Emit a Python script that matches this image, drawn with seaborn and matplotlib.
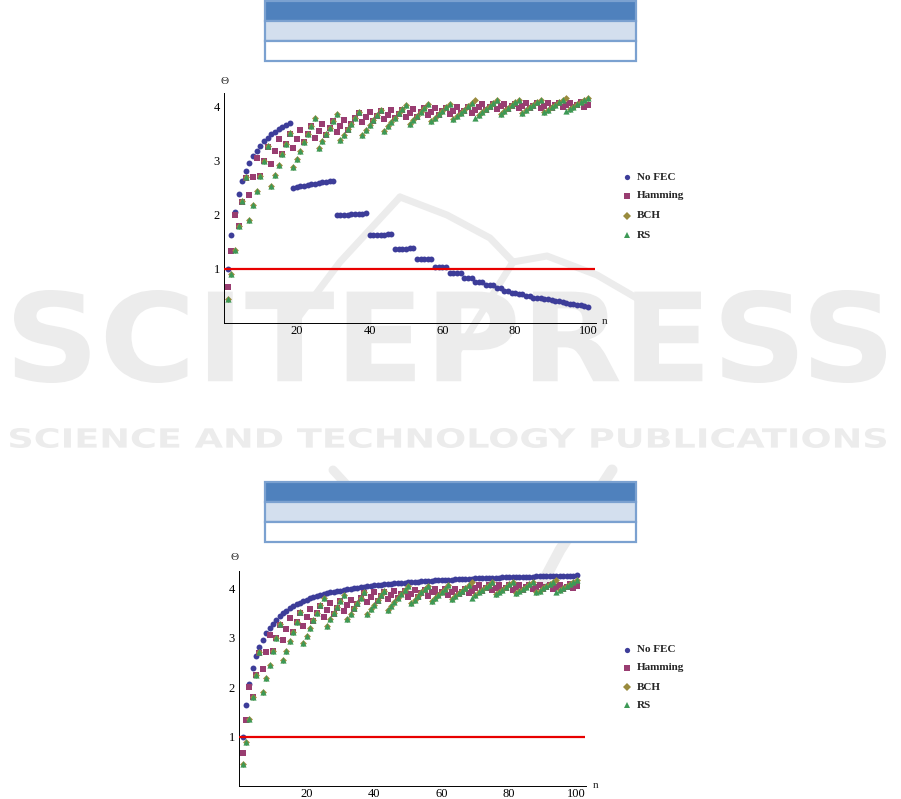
import seaborn as sns
import matplotlib.pyplot as plt
from matplotlib.patches import Rectangle, PathPatch
from matplotlib.lines import Line2D
from matplotlib.textpath import TextPath
from matplotlib.font_manager import FontProperties
from matplotlib.transforms import Affine2D
from matplotlib.ticker import MultipleLocator, FixedLocator

# packet length n = 1..100
n = list(range(1, 101))

# throughput without FEC, lossy channel (upper chart)
no_fec_lossy = [1.00, 1.63, 2.06, 2.38, 2.62, 2.81, 2.96, 3.09, 3.19, 3.28,
                3.36, 3.43, 3.49, 3.54, 3.59, 3.63, 3.67, 3.70, 2.49, 2.51,
                2.53, 2.54, 2.55, 2.57, 2.58, 2.59, 2.61, 2.61, 2.63, 2.63,
                1.99, 1.99, 2.00, 2.00, 2.01, 2.01, 2.02, 2.02, 2.03, 1.62,
                1.62, 1.63, 1.63, 1.63, 1.64, 1.64, 1.37, 1.37, 1.37, 1.37,
                1.38, 1.38, 1.18, 1.18, 1.18, 1.19, 1.19, 1.04, 1.04, 1.04,
                1.04, 0.93, 0.93, 0.93, 0.93, 0.84, 0.84, 0.84, 0.76, 0.76,
                0.76, 0.70, 0.70, 0.70, 0.65, 0.65, 0.60, 0.60, 0.56, 0.56,
                0.53, 0.53, 0.50, 0.50, 0.47, 0.47, 0.47, 0.45, 0.45, 0.42,
                0.40, 0.40, 0.39, 0.37, 0.35, 0.35, 0.34, 0.33, 0.31, 0.30]

# throughput without FEC, clean channel (lower chart)
no_fec_clean = [1.00, 1.63, 2.06, 2.38, 2.62, 2.81, 2.96, 3.09, 3.19, 3.28,
                3.36, 3.43, 3.49, 3.54, 3.59, 3.63, 3.67, 3.70, 3.73, 3.76,
                3.79, 3.81, 3.83, 3.85, 3.87, 3.89, 3.91, 3.92, 3.94, 3.95,
                3.97, 3.98, 3.99, 4.00, 4.01, 4.02, 4.03, 4.04, 4.05, 4.06,
                4.06, 4.07, 4.08, 4.08, 4.09, 4.10, 4.10, 4.11, 4.11, 4.12,
                4.13, 4.13, 4.13, 4.14, 4.14, 4.15, 4.15, 4.16, 4.16, 4.16,
                4.17, 4.17, 4.17, 4.18, 4.18, 4.18, 4.19, 4.19, 4.19, 4.20,
                4.20, 4.20, 4.20, 4.21, 4.21, 4.21, 4.21, 4.22, 4.22, 4.22,
                4.22, 4.22, 4.23, 4.23, 4.23, 4.23, 4.23, 4.24, 4.24, 4.24,
                4.24, 4.24, 4.24, 4.25, 4.25, 4.25, 4.25, 4.25, 4.25, 4.26]

hamming = [0.67, 1.33, 2.00, 1.80, 2.24, 2.69, 2.37, 2.71, 3.05, 2.72,
           2.99, 3.26, 2.95, 3.18, 3.40, 3.12, 3.31, 3.50, 3.24, 3.41,
           3.58, 3.34, 3.49, 3.64, 3.42, 3.55, 3.69, 3.48, 3.60, 3.73,
           3.53, 3.65, 3.76, 3.58, 3.68, 3.79, 3.89, 3.72, 3.81, 3.91,
           3.74, 3.83, 3.93, 3.77, 3.85, 3.94, 3.79, 3.87, 3.95, 3.81,
           3.88, 3.96, 3.82, 3.90, 3.97, 3.84, 3.91, 3.98, 3.85, 3.92,
           3.98, 3.86, 3.93, 3.99, 3.88, 3.93, 3.99, 3.89, 3.94, 4.00,
           4.06, 3.95, 4.00, 4.06, 3.96, 4.01, 4.06, 3.96, 4.01, 4.06,
           3.97, 4.02, 4.07, 3.97, 4.02, 4.07, 3.98, 4.02, 4.07, 3.98,
           4.03, 4.07, 3.99, 4.03, 4.07, 3.99, 4.03, 4.08, 4.00, 4.04]

bch = [0.45, 0.90, 1.35, 1.80, 2.25, 2.70, 1.91, 2.18, 2.45, 2.72,
       3.00, 3.27, 2.54, 2.73, 2.93, 3.12, 3.32, 3.51, 2.89, 3.04,
       3.19, 3.35, 3.50, 3.65, 3.80, 3.24, 3.37, 3.49, 3.61, 3.74,
       3.86, 3.38, 3.48, 3.59, 3.69, 3.80, 3.91, 3.48, 3.57, 3.66,
       3.75, 3.85, 3.94, 3.56, 3.64, 3.72, 3.80, 3.88, 3.96, 4.04,
       3.69, 3.76, 3.83, 3.91, 3.98, 4.05, 3.73, 3.80, 3.86, 3.93,
       3.99, 4.06, 3.77, 3.83, 3.89, 3.95, 4.01, 4.07, 4.13, 3.85,
       3.91, 3.96, 4.02, 4.07, 4.13, 3.87, 3.92, 3.97, 4.03, 4.08,
       4.13, 3.89, 3.94, 3.99, 4.03, 4.08, 4.13, 3.91, 3.95, 4.00,
       4.04, 4.08, 4.13, 4.17, 3.96, 4.00, 4.05, 4.09, 4.13, 4.17]

rs = [0.45, 0.90, 1.35, 1.80, 2.25, 2.70, 1.91, 2.18, 2.45, 2.72,
      3.00, 3.27, 2.54, 2.73, 2.93, 3.12, 3.32, 3.51, 2.89, 3.04,
      3.19, 3.35, 3.50, 3.65, 3.80, 3.24, 3.37, 3.49, 3.61, 3.74,
      3.86, 3.38, 3.48, 3.59, 3.69, 3.80, 3.91, 3.48, 3.57, 3.66,
      3.75, 3.85, 3.94, 3.56, 3.64, 3.72, 3.80, 3.88, 3.96, 4.04,
      3.69, 3.76, 3.83, 3.91, 3.98, 4.05, 3.73, 3.80, 3.86, 3.93,
      3.99, 4.06, 3.77, 3.83, 3.89, 3.95, 4.01, 4.07, 3.80, 3.85,
      3.91, 3.96, 4.02, 4.07, 4.13, 3.87, 3.92, 3.97, 4.03, 4.08,
      4.13, 3.89, 3.94, 3.99, 4.03, 4.08, 4.13, 3.91, 3.95, 4.00,
      4.04, 4.08, 4.13, 3.92, 3.96, 4.00, 4.05, 4.09, 4.13, 4.17]

labels = ["No FEC", "Hamming", "BCH", "RS"]
colors = ["#3d3d99", "#993d71", "#998b3d", "#3d9956"]
markers = ["o", "s", "D", "^"]
sizes = [18, 13, 12, 20]

W, H = 901, 799
WM = "#ececec"  # watermark grey
sns.set_style("white")
plt.rcParams['font.family'] = ['Liberation Serif', 'DejaVu Serif']

fig = plt.figure(figsize=(W / 100, H / 100), dpi=100)


def fx(px):
    return px / W


def fy(py):
    return 1 - py / H


# watermark text, stretched into a pixel box (left, top, right, bottom)
def stamp(text, box):
    tp = TextPath((0, 0), text, size=100,
                  prop=FontProperties(family="DejaVu Sans", weight="bold"))
    ext = tp.get_extents()
    x0, y0, x1, y1 = box
    sx = (x1 - x0) / ext.width / W
    sy = (y1 - y0) / ext.height / H
    tr = Affine2D().translate(-ext.x0, -ext.y0).scale(sx, sy).translate(fx(x0), fy(y1))
    fig.add_artist(PathPatch(tr.transform_path(tp), transform=fig.transFigure,
                             facecolor=WM, edgecolor="none", zorder=-5))


def stroke(pts, width=7):
    fig.add_artist(Line2D([fx(p[0]) for p in pts], [fy(p[1]) for p in pts],
                          color=WM, lw=width * 0.72, solid_capstyle="round",
                          solid_joinstyle="round", transform=fig.transFigure, zorder=-6))


stamp("SCITEPRESS", (14, 290, 886, 383))
stamp("SCIENCE AND TECHNOLOGY PUBLICATIONS", (10, 428, 886, 448))
# logo strokes of the watermark
stroke([(285, 335), (340, 262), (400, 197)])
stroke([(400, 197), (447, 215), (490, 238), (513, 262)])
stroke([(513, 262), (547, 256), (597, 275), (640, 300)])
stroke([(513, 262), (477, 320), (455, 356)])
stroke([(333, 470), (368, 508), (410, 508)], width=9)
stroke([(612, 470), (560, 550), (543, 582)], width=11)


# empty table header above each chart
def table(top):
    rows = [("#4f81bd", top, top + 20), ("#d3dfee", top + 20, top + 40), ("white", top + 40, top + 60)]
    for c, t, b in rows:
        fig.add_artist(Rectangle((fx(265), fy(b)), fx(636) - fx(265), fy(t) - fy(b),
                                 transform=fig.transFigure, facecolor=c,
                                 edgecolor="#7ba1d0", lw=1.6, zorder=1))


table(1)
table(482)


def panel(rect, xmax, ymax, no_fec, legend_y, theta_xy, n_xy):
    ax = fig.add_axes(rect)
    ax.set_facecolor("none")
    series = [no_fec, hamming, bch, rs]
    for vals, c, m, s in zip(series, colors, markers, sizes):
        sns.scatterplot(x=n, y=vals, ax=ax, marker=m, color=c, s=s,
                        linewidth=0, clip_on=False, zorder=3)
    ax.hlines(1, 0, xmax - 0.3, color="#e80000", lw=1.6, zorder=4)
    ax.set_xlim(0, xmax)
    ax.set_ylim(0, ymax)
    sns.despine(ax=ax)
    for sp in ("left", "bottom"):
        ax.spines[sp].set_linewidth(0.7)
        ax.spines[sp].set_color("black")
    ax.xaxis.set_major_locator(FixedLocator([20, 40, 60, 80, 100]))
    ax.xaxis.set_minor_locator(MultipleLocator(5))
    ax.yaxis.set_major_locator(FixedLocator([1, 2, 3, 4]))
    ax.yaxis.set_minor_locator(MultipleLocator(0.2))
    ax.tick_params(which="both", direction="in", width=0.6, colors="black",
                   labelsize=9)
    ax.tick_params(axis="x", pad=1.5)
    ax.tick_params(axis="y", pad=3)
    ax.tick_params(which="major", length=4)
    ax.tick_params(which="minor", length=2)
    ax.set_xlabel("")
    ax.set_ylabel("")
    fig.text(fx(theta_xy[0]), fy(theta_xy[1]), "Θ", ha="center", va="center", fontsize=8)
    fig.text(fx(n_xy[0]), fy(n_xy[1]), "n", ha="center", va="center", fontsize=8)
    # legend to the right of the plot
    for i, (lab, c, m) in enumerate(zip(labels, colors, markers)):
        y = legend_y[i]
        fig.add_artist(Line2D([fx(627)], [fy(y)], marker=m, color=c, markersize=3.8,
                              markeredgewidth=0, transform=fig.transFigure))
        fig.text(fx(637), fy(y), lab, ha="left", va="center", fontsize=8, fontweight="bold")
    return ax


panel([fx(224), fy(323), (596 - 224) / W, (323 - 93.3) / H], 102.2, 4.25,
      no_fec_lossy, [177, 196, 216, 235], (225, 82), (605, 322))
panel([fx(239.2), fy(786.2), (586 - 239.2) / W, (786.2 - 570.7) / H], 102.75, 4.35,
      no_fec_clean, [650, 668, 687, 705], (235, 558), (596, 786))

plt.savefig("out.png", dpi=100)
